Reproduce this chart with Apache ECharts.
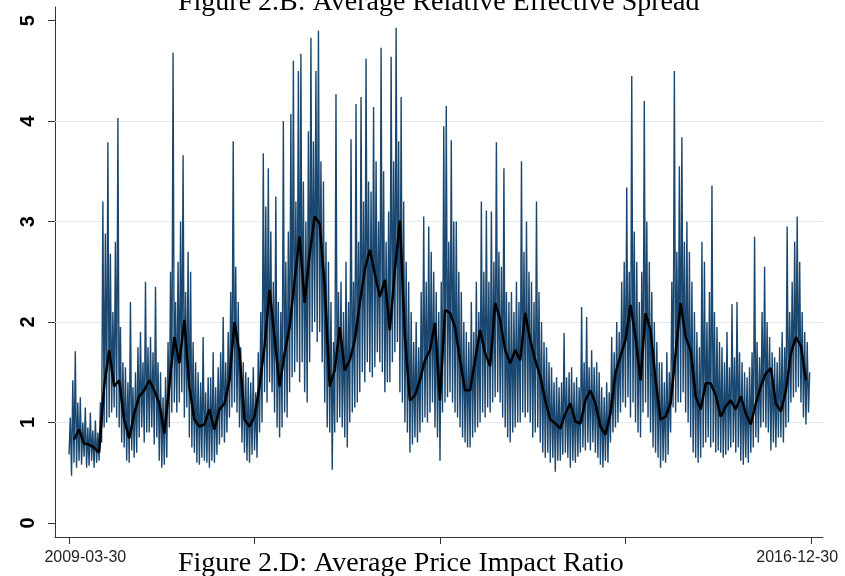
<!DOCTYPE html>
<html>
<head>
<meta charset="utf-8">
<script src="https://cdn.jsdelivr.net/npm/echarts@6.0.0/dist/echarts.min.js"></script>
<style>
  html, body { margin: 0; padding: 0; background: #fff; }
  #chart { width: 845px; height: 576px; }
</style>
</head>
<body>
<div id="chart"></div>
<script>
const spread = [
  0.68, 1.05, 0.47, 1.42, 0.60, 1.71, 0.55, 1.20,
  0.62, 1.25, 0.58, 1.00, 0.66, 1.15, 0.55, 0.95,
  0.57, 1.10, 0.62, 0.92, 0.55, 1.02, 0.60, 0.90,
  0.62, 1.20, 0.80, 3.20, 0.95, 2.88, 1.00, 3.79,
  1.05, 2.68, 1.10, 2.10, 1.15, 2.80, 1.05, 4.03,
  0.95, 1.95, 0.80, 1.60, 0.75, 1.55, 0.62, 1.40,
  0.60, 2.20, 0.72, 1.35, 0.65, 1.50, 0.70, 1.75,
  0.85, 1.90, 0.95, 1.60, 0.80, 2.40, 0.90, 1.75,
  0.90, 1.85, 0.95, 1.70, 0.78, 2.35, 0.85, 1.60,
  0.62, 1.50, 0.55, 1.25, 0.58, 1.45, 0.65, 1.80,
  0.95, 2.50, 1.10, 4.68, 1.20, 2.20, 1.10, 2.60,
  1.20, 3.00, 1.30, 3.66, 1.05, 2.30, 1.15, 2.70,
  0.85, 2.50, 0.75, 1.80, 0.70, 1.60, 0.60, 1.50,
  0.58, 1.40, 0.65, 1.85, 0.62, 1.30, 0.60, 1.45,
  0.55, 1.45, 0.62, 1.70, 0.60, 1.35, 0.68, 1.55,
  0.78, 1.70, 0.85, 2.05, 0.80, 1.60, 0.90, 1.90,
  1.05, 2.30, 1.15, 3.80, 1.20, 2.55, 1.10, 2.20,
  0.95, 1.75, 0.80, 1.60, 0.70, 1.50, 0.62, 1.45,
  0.60, 1.40, 0.68, 1.55, 0.72, 1.30, 0.65, 1.70,
  0.90, 2.10, 1.00, 3.68, 1.30, 3.15, 1.20, 3.53,
  1.40, 2.90, 1.30, 2.40, 1.10, 3.25, 0.95, 2.20,
  0.85, 2.10, 0.95, 4.00, 1.10, 2.60, 1.05, 2.90,
  1.30, 4.07, 1.45, 4.60, 1.50, 3.20, 1.60, 4.50,
  1.40, 4.67, 1.60, 3.40, 1.30, 3.00, 1.20, 3.90,
  1.60, 4.83, 1.90, 3.80, 2.00, 4.50, 1.80, 4.90,
  1.90, 3.60, 1.60, 3.40, 1.20, 2.80, 0.95, 2.60,
  0.90, 2.20, 0.53, 1.80, 0.90, 4.27, 1.00, 2.30,
  1.05, 2.40, 0.95, 2.10, 0.85, 2.60, 0.75, 2.20,
  1.00, 3.82, 1.10, 2.40, 1.15, 4.17, 1.20, 2.80,
  1.30, 4.24, 1.50, 3.20, 1.40, 4.62, 1.60, 3.40,
  1.50, 3.30, 1.45, 4.14, 1.55, 3.60, 1.70, 3.00,
  1.60, 4.73, 1.50, 3.50, 1.30, 2.80, 1.40, 3.10,
  1.40, 4.64, 1.60, 3.60, 1.70, 4.93, 1.80, 3.80,
  1.30, 4.24, 1.20, 3.20, 1.00, 2.60, 0.90, 2.40,
  0.70, 2.10, 0.78, 1.80, 0.85, 2.00, 0.80, 1.75,
  0.90, 2.30, 1.00, 3.05, 1.05, 2.40, 1.00, 2.95,
  1.10, 2.70, 1.20, 2.50, 0.95, 2.30, 0.85, 2.10,
  0.62, 2.40, 1.10, 3.95, 1.20, 4.15, 1.25, 2.80,
  1.30, 3.81, 1.20, 3.00, 1.10, 3.00, 1.05, 2.50,
  0.95, 2.30, 0.85, 2.00, 0.80, 1.90, 0.75, 1.80,
  0.75, 2.20, 0.85, 1.90, 0.90, 2.40, 0.95, 2.10,
  1.00, 3.20, 1.10, 2.50, 1.05, 3.11, 1.15, 2.40,
  1.10, 3.10, 1.20, 2.60, 1.25, 3.79, 1.30, 2.70,
  1.20, 2.55, 1.05, 3.53, 0.95, 2.30, 0.85, 2.20,
  0.80, 2.30, 0.90, 2.10, 0.95, 2.40, 1.00, 2.20,
  1.00, 3.60, 1.10, 2.70, 1.05, 3.00, 1.10, 2.50,
  1.00, 2.40, 0.85, 2.20, 0.90, 3.20, 0.95, 2.30,
  0.80, 2.00, 0.70, 1.80, 0.65, 1.75, 0.70, 1.60,
  0.60, 1.55, 0.65, 1.40, 0.51, 1.45, 0.62, 1.35,
  0.62, 1.40, 0.68, 1.89, 0.70, 1.45, 0.65, 1.50,
  0.55, 1.55, 0.62, 1.40, 0.60, 1.45, 0.66, 1.35,
  0.70, 2.15, 0.75, 1.60, 0.72, 2.05, 0.80, 1.55,
  0.72, 1.72, 0.80, 1.55, 0.70, 1.60, 0.65, 1.50,
  0.58, 1.35, 0.55, 1.25, 0.62, 1.40, 0.60, 1.30,
  0.80, 1.85, 0.90, 1.70, 0.95, 2.00, 1.00, 1.90,
  1.10, 2.40, 1.20, 2.60, 1.15, 3.34, 1.25, 2.50,
  1.05, 4.45, 1.20, 2.90, 1.00, 2.60, 0.90, 2.20,
  0.85, 2.50, 1.10, 4.20, 1.20, 3.00, 1.05, 2.60,
  0.90, 2.30, 0.75, 2.00, 0.70, 1.80, 0.65, 1.60,
  0.55, 1.60, 0.62, 1.40, 0.60, 1.70, 0.68, 1.50,
  0.90, 2.40, 1.15, 4.50, 1.10, 2.70, 1.20, 3.55,
  1.20, 3.84, 1.30, 2.80, 1.10, 3.00, 1.00, 2.70,
  0.85, 2.40, 0.70, 2.10, 0.65, 1.90, 0.60, 1.75,
  0.65, 2.80, 0.75, 2.60, 0.80, 2.00, 0.85, 2.30,
  0.75, 3.36, 0.80, 2.10, 0.70, 1.95, 0.72, 1.80,
  0.70, 1.75, 0.65, 1.60, 0.68, 1.90, 0.72, 1.55,
  0.75, 2.18, 0.80, 1.65, 0.70, 2.20, 0.75, 1.70,
  0.62, 1.60, 0.58, 1.50, 0.65, 1.45, 0.60, 1.55,
  0.70, 1.70, 0.75, 2.85, 0.85, 1.80, 0.80, 1.65,
  0.95, 2.10, 1.00, 2.55, 0.95, 2.00, 0.90, 1.85,
  0.72, 1.70, 0.80, 1.65, 0.75, 1.60, 0.85, 1.75,
  0.85, 1.90, 0.80, 1.75, 0.95, 2.95, 1.00, 2.10,
  1.20, 2.40, 1.25, 2.80, 1.30, 3.05, 1.35, 2.60,
  1.20, 2.10, 1.05, 1.90, 0.98, 1.80, 1.10, 1.50
];

// moving average (black line), one value per four spread samples
const spreadMA = [
  null, 0.83, 0.93, 0.79, 0.78, 0.75, 0.70, 1.36, 1.72, 1.36,
  1.42, 1.03, 0.84, 1.09, 1.26, 1.32, 1.42, 1.32, 1.19, 0.89,
  1.36, 1.85, 1.59, 2.02, 1.36, 1.03, 0.96, 0.98, 1.13, 0.93,
  1.13, 1.19, 1.42, 2.00, 1.69, 1.03, 0.96, 1.06, 1.36, 1.76,
  2.32, 1.85, 1.36, 1.69, 1.95, 2.42, 2.85, 2.19, 2.68, 3.05,
  2.98, 2.35, 1.36, 1.52, 1.95, 1.52, 1.62, 1.82, 2.19, 2.52,
  2.72, 2.48, 2.25, 2.42, 1.92, 2.52, 3.01, 1.85, 1.22, 1.27,
  1.42, 1.62, 1.72, 1.99, 1.22, 2.12, 2.09, 1.95, 1.62, 1.32,
  1.32, 1.62, 1.92, 1.69, 1.56, 2.19, 2.02, 1.72, 1.59, 1.72,
  1.62, 2.09, 1.82, 1.62, 1.46, 1.22, 1.03, 0.99, 0.94, 1.09,
  1.19, 1.01, 0.99, 1.22, 1.32, 1.19, 0.96, 0.88, 1.09, 1.49,
  1.66, 1.82, 2.17, 1.85, 1.42, 2.09, 1.92, 1.42, 1.03, 1.06,
  1.19, 1.69, 2.19, 1.85, 1.72, 1.26, 1.13, 1.39, 1.39, 1.27,
  1.06, 1.16, 1.22, 1.13, 1.26, 1.09, 0.98, 1.19, 1.36, 1.49,
  1.54, 1.19, 1.11, 1.32, 1.69, 1.85, 1.76, 1.42
];

// x ticks (sample index), date labels and where they sit
const xTickPos = [0, 148, 296, 444, 592];
const xLabelPos = [13, 581];
const xLabelText = ['2009-03-30', '2016-12-30'];
const yTicks = [0, 1, 2, 3, 4, 5];
const yGrid = [1, 2, 3, 4];

const titleTop = 'Figure 2.B: Average Relative Effective Spread';
const titleBottom = 'Figure 2.D: Average Price Impact Ratio';

const chart = echarts.init(document.getElementById('chart'));

const option = {
  animation: false,
  backgroundColor: '#fff',
  grid: { left: 55, right: 22, top: 7, bottom: 39, containLabel: false },
  xAxis: {
    type: 'value',
    min: -11.2,
    max: 601.6,
    axisLine: { show: true, onZero: false, lineStyle: { color: '#333', width: 1 } },
    axisTick: { show: true, customValues: xTickPos, length: 7, lineStyle: { color: '#333' } },
    axisLabel: {
      show: true,
      customValues: xLabelPos,
      margin: 13,
      fontFamily: 'Liberation Sans',
      fontSize: 16,
      color: '#222',
      formatter: function (v) {
        const k = xLabelPos.indexOf(v);
        return k >= 0 ? xLabelText[k] : '';
      }
    },
    splitLine: { show: false }
  },
  yAxis: {
    type: 'value',
    min: -0.14,
    max: 5.136,
    axisLine: { show: true, onZero: false, lineStyle: { color: '#333', width: 1 } },
    axisTick: { show: true, customValues: yTicks, length: 7, lineStyle: { color: '#333' } },
    axisLabel: {
      show: true,
      customValues: yTicks,
      rotate: 90,
      margin: 17,
      fontFamily: 'Liberation Sans',
      fontWeight: 'bold',
      fontSize: 20,
      color: '#000'
    },
    splitLine: { show: false }
  },
  graphic: [
    {
      type: 'text', left: 178, top: -11, silent: true,
      style: { text: titleTop, fontFamily: 'Liberation Serif', fontSize: 28, fill: '#000' }
    },
    {
      type: 'text', left: 178, top: 550, silent: true,
      style: { text: titleBottom, fontFamily: 'Liberation Serif', fontSize: 28, fill: '#000' }
    }
  ],
  series: [
    {
      name: 'grid',
      type: 'line',
      data: [],
      z: 1,
      silent: true,
      markLine: {
        z: 1,
        silent: true,
        symbol: 'none',
        label: { show: false },
        lineStyle: { color: '#e2ebee', width: 1, type: 'solid' },
        data: yGrid.map(v => ({ yAxis: v }))
      }
    },
    {
      name: 'spread',
      type: 'line',
      z: 2,
      showSymbol: false,
      symbol: 'none',
      lineStyle: { color: '#1a476f', width: 1.4 },
      data: spread.map((v, i) => [i, v])
    },
    {
      name: 'moving average',
      type: 'line',
      z: 3,
      showSymbol: false,
      symbol: 'none',
      connectNulls: false,
      lineStyle: { color: '#000', width: 2.5 },
      data: spreadMA.map((v, i) => [4 * i, v])
    }
  ]
};

chart.setOption(option);
</script>
</body>
</html>
